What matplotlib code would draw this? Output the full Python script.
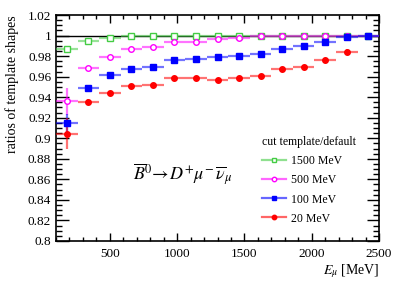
import numpy as np
import matplotlib.pyplot as plt
from matplotlib.ticker import MultipleLocator
from matplotlib.lines import Line2D

plt.rcParams['font.family'] = ['Liberation Serif', 'DejaVu Serif']
plt.rcParams['mathtext.fontset'] = 'stix'

# bin centres and half widths [MeV]
e_mu = [180, 340, 500, 660, 820, 980, 1140, 1300, 1460, 1620, 1780, 1940, 2100, 2260, 2420]
half_width = 80

# ratios for each cut
r_1500 = [0.987, 0.995, 0.9978, 0.9998, 1.0, 1.0, 1.0, 1.0, 1.0, 1.0, 1.0, 1.0, 1.0, 1.0, 1.0]
r_500 = [0.936, 0.968, 0.979, 0.987, 0.989, 0.9934, 0.994, 0.9966, 0.998, 0.9993, 0.9996, 1.0, 1.0, 1.0, 1.0]
r_100 = [0.915, 0.949, 0.9616, 0.9674, 0.9694, 0.9765, 0.9769, 0.9788, 0.980, 0.9823, 0.9872, 0.990, 0.9937, 0.9989, 1.0]
r_20 = [0.9045, 0.9356, 0.944, 0.9512, 0.9519, 0.9584, 0.9584, 0.9567, 0.9584, 0.9609, 0.9674, 0.969, 0.9759, 0.9843]

err_1500 = [0.003, 0.001, 0.001, 0.0005, 0.0005, 0.0005, 0.0005, 0.0005, 0.0005, 0.0005, 0.0005, 0.0005, 0.0005, 0.0005, 0.0005]
err_500 = [0.013, 0.002, 0.001, 0.001, 0.001, 0.001, 0.001, 0.001, 0.001, 0.001, 0.001, 0.001, 0.001, 0.001, 0.001]
err_100 = [0.0085, 0.003, 0.0015, 0.001, 0.001, 0.001, 0.001, 0.001, 0.001, 0.001, 0.001, 0.001, 0.001, 0.001, 0.001]
err_20 = [0.015, 0.003, 0.0015, 0.001, 0.001, 0.001, 0.001, 0.001, 0.001, 0.001, 0.001, 0.001, 0.001, 0.003]

labels = ["1500 MeV", "500 MeV", "100 MeV", "20 MeV"]

fig = plt.figure(figsize=(3.99, 2.88), dpi=100)
ax = fig.add_axes([0.1404, 0.1632, 0.8096, 0.7847])

ax.axhline(1.0, color='black', lw=1.0, zorder=1)

series = [
    (r_1500, err_1500, '#44cc44', 's', 'none'),
    (r_500, err_500, '#ff00ff', 'o', 'none'),
    (r_100, err_100, '#0000ff', 's', 'full'),
    (r_20, err_20, '#ff0000', 'o', 'full'),
]
handles = []
for (vals, errs, col, mk, fill), lab in zip(series, labels):
    x = e_mu[:len(vals)]
    face = 'white' if fill == 'none' else col
    ms = 4.2 if mk == 's' else 4.0
    h = ax.errorbar(x, vals, xerr=half_width, yerr=errs, fmt=mk, color=col,
                    ecolor=col, elinewidth=1.6, capsize=0, ms=ms,
                    mfc=face, mec=col, mew=1.0, zorder=3)
    for ln in h[2]:
        ln.set_alpha(0.55)
    # legend: horizontal line with the marker in the middle
    handles.append((Line2D([0], [0], color=col, lw=1.6, alpha=0.6),
                    Line2D([0], [0], ls='none', marker=mk, ms=ms - 0.8,
                           mfc=face, mec=col, mew=1.0)))

ax.set_xlim(100, 2500)
ax.set_ylim(0.8, 1.02)
ax.xaxis.set_major_locator(MultipleLocator(500))
ax.xaxis.set_minor_locator(MultipleLocator(100))
ax.yaxis.set_minor_locator(MultipleLocator(0.005))
ax.set_yticks(np.arange(0.8, 1.021, 0.02))
ax.set_yticklabels(['0.8', '0.82', '0.84', '0.86', '0.88', '0.9', '0.92', '0.94', '0.96', '0.98', '1', '1.02'])

ax.tick_params(which='both', direction='in', top=True, right=True, labelsize=9.5, width=1.0)
ax.tick_params(axis='y', which='major', length=9)
ax.tick_params(axis='y', which='minor', length=4.5)
ax.tick_params(axis='x', which='major', length=5.5)
ax.tick_params(axis='x', which='minor', length=3)
ax.tick_params(axis='x', pad=5)
for sp in ax.spines.values():
    sp.set_linewidth(1.2)

ax.set_ylabel("ratios of template shapes", fontsize=10, loc='top', labelpad=6)
ax.set_xlabel(r"$E_{\mu}$ [MeV]", fontsize=10, loc='right', labelpad=2)

ax.text(670, 0.864, r"$\overline{B}^{0}\!\rightarrow\! D^{+}\mu^{-}\,\overline{\nu}_{\mu}$",
        fontsize=13, ha='left', va='center')

leg = ax.legend(handles=handles, labels=labels, loc='upper left', bbox_to_anchor=(0.613, 0.50),
                frameon=False, fontsize=8.5, title="cut template/default",
                title_fontsize=8.5, handlelength=2.0, labelspacing=0.6,
                handletextpad=0.4, borderpad=0.2)
leg._legend_box.align = "left"

fig.savefig("out.png", dpi=100)
